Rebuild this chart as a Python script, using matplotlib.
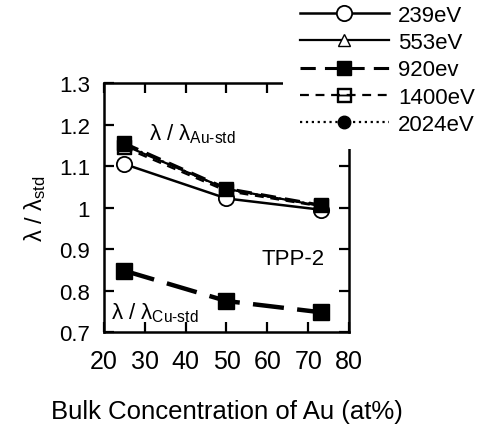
import numpy as np
import matplotlib
matplotlib.use("Agg")
import matplotlib.pyplot as plt
from matplotlib.patches import Rectangle
from matplotlib.ticker import FormatStrFormatter

plt.rcParams["font.family"] = ["Liberation Sans", "DejaVu Sans"]
plt.rcParams["mathtext.fontset"] = "custom"
plt.rcParams["mathtext.rm"] = "Liberation Sans"
plt.rcParams["mathtext.it"] = "Liberation Sans"

# bulk Au concentration (at%)
conc = [25, 50, 73]

# lambda / lambda_Au-std
au_239 = [1.105, 1.022, 0.995]
au_553 = [1.150, 1.045, 1.004]
au_920 = [1.155, 1.046, 1.006]
au_1400 = [1.145, 1.040, 1.003]
au_2024 = [1.152, 1.044, 1.005]

# lambda / lambda_Cu-std
cu_920 = [0.848, 0.775, 0.748]

fig = plt.figure(figsize=(4.85, 4.31), dpi=100)
ax = fig.add_axes([0.214, 0.227, 0.506, 0.578])

lw = 1.6
ax.plot(conc, au_2024, ls=":", color="black", lw=lw, marker="o", ms=9,
        mfc="black", mec="black", label="2024eV", zorder=2)
ax.plot(conc, au_553, ls="-", color="black", lw=lw, marker="^", ms=8,
        mfc="white", mec="black", label="553eV", zorder=2)
ax.plot(conc, au_1400, ls=(0, (4, 3)), color="black", lw=lw, marker="$\u229f$",
        ms=10, mfc="white", mec="black", label="1400eV", zorder=3)
ax.plot(conc, au_239, ls="-", color="black", lw=1.8, marker="o", ms=11,
        mfc="white", mec="black", mew=1.3, label="239eV", zorder=4)
ax.plot(conc, au_920, ls=(0, (5, 3)), color="black", lw=2.2, marker="s", ms=10,
        mfc="black", mec="black", label="920ev", zorder=5)
ax.plot(conc, cu_920, ls=(0, (7, 3)), color="black", lw=3.2, marker="s", ms=11,
        mfc="black", mec="black", zorder=5)

ax.set_xlim(20, 80)
ax.set_ylim(0.7, 1.3)
ax.set_xticks(np.arange(20, 81, 10))
ax.set_yticks(np.arange(0.7, 1.31, 0.1))
ax.yaxis.set_major_formatter(FormatStrFormatter("%g"))
ax.tick_params(direction="in", top=True, right=True, length=7, width=1.6)
ax.tick_params(axis="y", labelsize=16, pad=10)
ax.tick_params(axis="x", labelsize=18, pad=12)
for s in ax.spines.values():
    s.set_linewidth(1.8)

ax.set_xlabel("Bulk Concentration of Au (at%)", fontsize=18.5, labelpad=19)
ax.set_ylabel(r"$\lambda$ / $\lambda_{\rm std}$", fontsize=17, labelpad=8)

ax.text(31, 1.178, r"$\lambda$ / $\lambda_{\rm Au\text{-}std}$", fontsize=16,
        va="center")
ax.text(21.8, 0.748, r"$\lambda$ / $\lambda_{\rm Cu\text{-}std}$", fontsize=16,
        va="center")
ax.text(66.3, 0.878, "TPP-2", fontsize=16, ha="center", va="center")

# white block behind the legend, hiding the top-right corner of the frame
fig.add_artist(Rectangle((283 / 485, 1 - 150 / 431), 1, 1,
                         transform=fig.transFigure, facecolor="white",
                         edgecolor="none", zorder=5))

handles, labels = ax.get_legend_handles_labels()
order = ["239eV", "553eV", "920ev", "1400eV", "2024eV"]
hmap = dict(zip(labels, handles))
leg = fig.legend([hmap[k] for k in order], order, loc="upper left",
                 bbox_to_anchor=(300 / 485, 1 - 6 / 431), frameon=False,
                 fontsize=16, handlelength=4.0, labelspacing=0.28,
                 handletextpad=0.4, borderpad=0, borderaxespad=0)
leg.set_zorder(10)

fig.savefig("out.png", dpi=100)
